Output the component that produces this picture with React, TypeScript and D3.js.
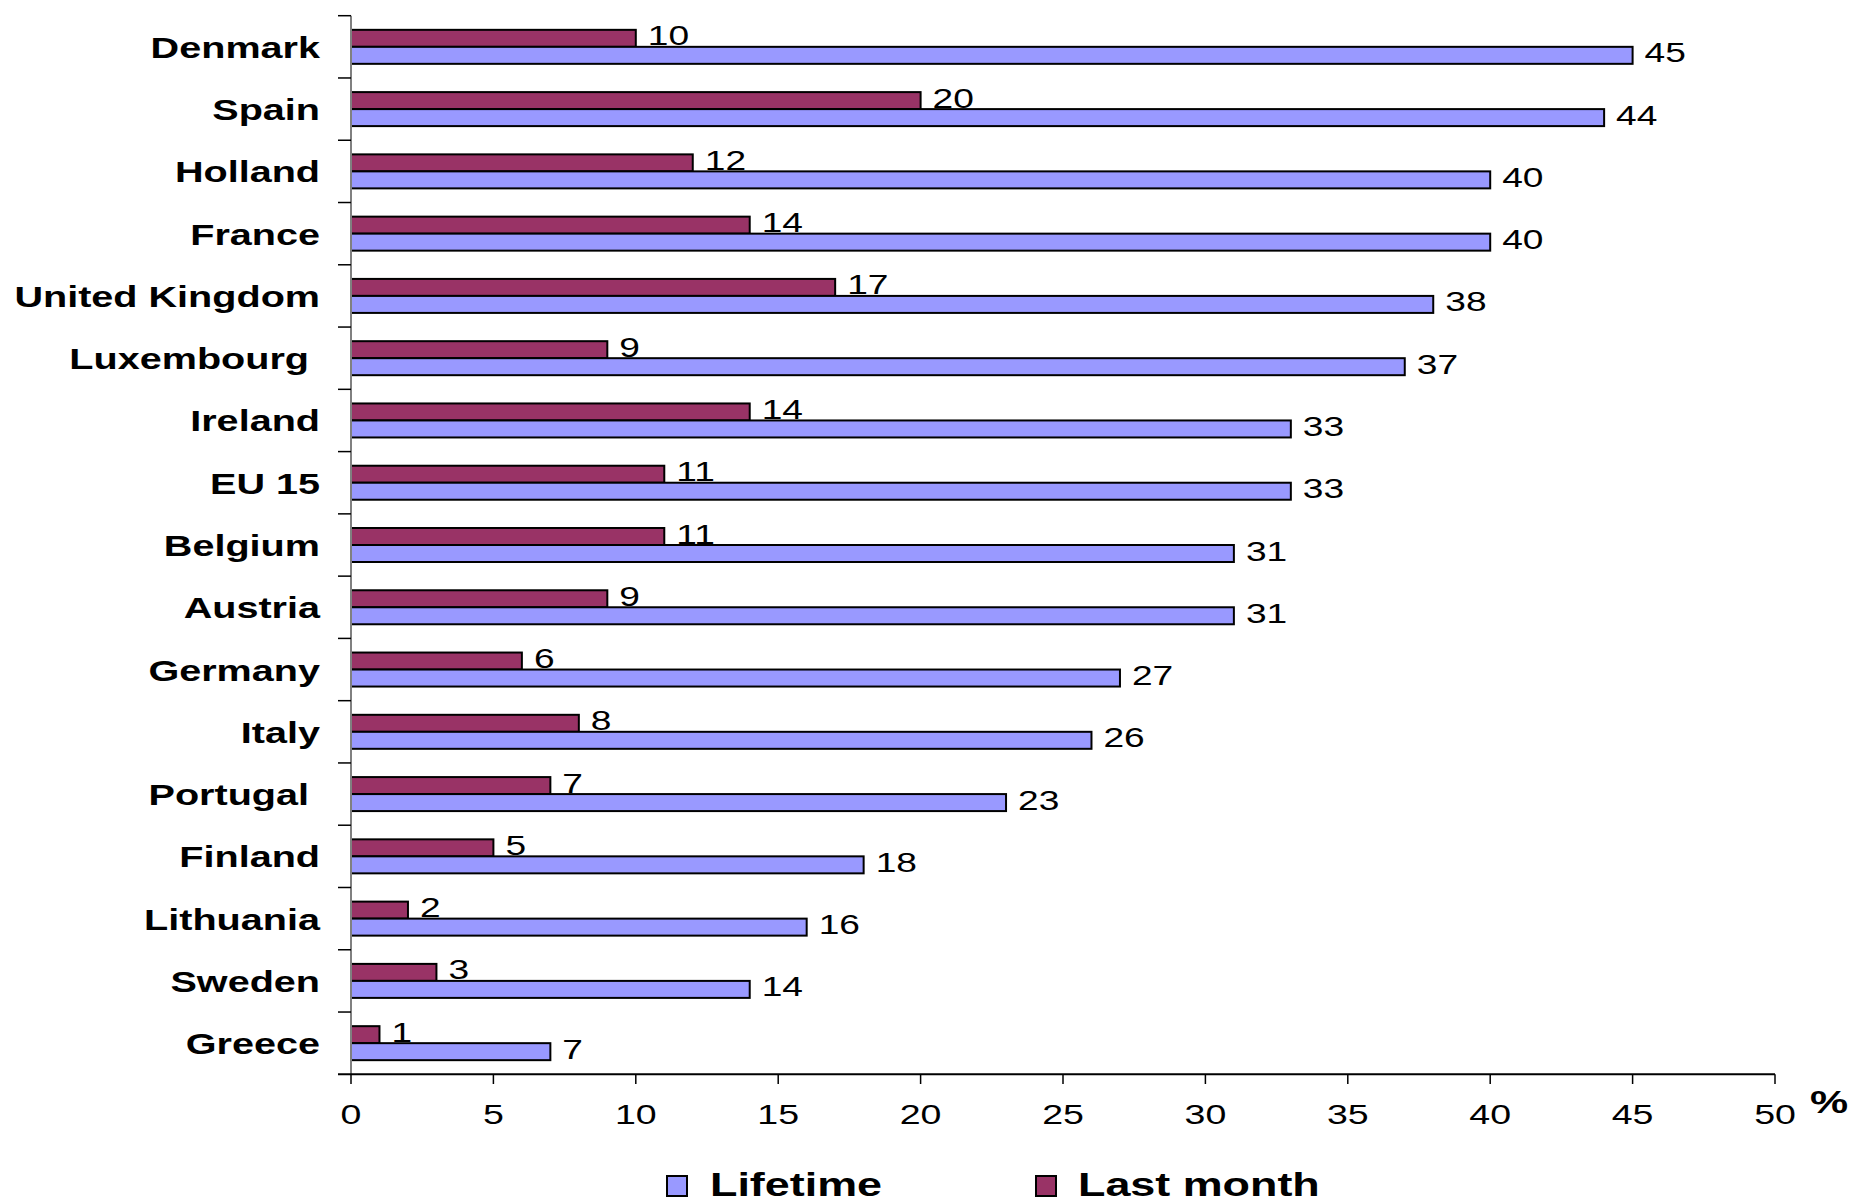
import React from "react";
import * as d3 from "d3";

// Prevalence of use, % of population
const countries = [
  "Denmark", "Spain", "Holland", "France", "United Kingdom", "Luxembourg ",
  "Ireland", "EU 15", "Belgium", "Austria", "Germany", "Italy", "Portugal ",
  "Finland", "Lithuania", "Sweden", "Greece",
];
const lifetime = [45, 44, 40, 40, 38, 37, 33, 33, 31, 31, 27, 26, 23, 18, 16, 14, 7];
const lastMonth = [10, 20, 12, 14, 17, 9, 14, 11, 11, 9, 6, 8, 7, 5, 2, 3, 1];
const xTicks = [0, 5, 10, 15, 20, 25, 30, 35, 40, 45, 50];
const seriesNames = ["Lifetime", "Last month"];

const W = 1854;
const H = 1203;
const FONT = "'Liberation Sans', Arial, Helvetica, sans-serif";
const LAVENDER = "#9999FF";
const MAROON = "#993366";

export default function App() {
  const x = d3.scaleLinear().domain([0, 50]).range([351, 1775]);
  const y = d3.scaleBand<string>().domain(countries).range([15.7, 1074.3]).padding(0);
  const bw = y.bandwidth();
  const barH = 17;

  // lettering is drawn horizontally stretched
  const txt = (
    key: string,
    tx: number,
    ty: number,
    s: string,
    size: number,
    bold: boolean,
    anchor: "start" | "middle" | "end",
    sx = 1.34
  ) => (
    <text
      key={key}
      transform={`translate(${tx},${ty}) scale(${sx},1)`}
      fontFamily={FONT}
      fontSize={size}
      fontWeight={bold ? "bold" : "normal"}
      textAnchor={anchor}
      fill="#000"
      style={{ whiteSpace: "pre" }}
    >
      {s}
    </text>
  );

  return (
    <svg
      width={W}
      height={H}
      style={{ position: "absolute", left: 0, top: 0, background: "#fff" }}
    >
      {/* bars */}
      {countries.map((c, i) => {
        const yc = (y(c) as number) + bw / 2;
        const yM = yc - barH;
        const yL = yc;
        return (
          <g key={c}>
            <rect x={x(0)} y={yM} width={x(lastMonth[i]) - x(0)} height={barH}
              fill={MAROON} stroke="#000" strokeWidth={2} />
            <rect x={x(0)} y={yL} width={x(lifetime[i]) - x(0)} height={barH}
              fill={LAVENDER} stroke="#000" strokeWidth={2} />
            {txt("m" + i, x(lastMonth[i]) + 12, yM + barH / 2 + 7, String(lastMonth[i]), 27.5, false, "start", 1.35)}
            {txt("l" + i, x(lifetime[i]) + 12, yL + barH / 2 + 7, String(lifetime[i]), 27.5, false, "start", 1.35)}
            {txt("c" + i, 320, yc + 11, c, 30, true, "end", 1.32)}
          </g>
        );
      })}

      {/* y axis */}
      <line x1={x(0)} x2={x(0)} y1={15.7} y2={1074.3} stroke="#808080" strokeWidth={2} />
      {countries.map((c, i) => (
        <line key={"yt" + i} x1={338} x2={x(0)} y1={y(c) as number} y2={y(c) as number}
          stroke="#000" strokeWidth={1.5} />
      ))}

      {/* x axis */}
      <line x1={338} x2={x(50)} y1={1074.3} y2={1074.3} stroke="#000" strokeWidth={2} />
      {xTicks.map((t) => (
        <g key={"xt" + t}>
          <line x1={x(t)} x2={x(t)} y1={1074.3} y2={1084} stroke="#000" strokeWidth={1.5} />
          {txt("xl" + t, x(t), 1124, String(t), 28, false, "middle")}
        </g>
      ))}
      {txt("pct", 1810, 1113, "%", 32, true, "start")}

      {/* legend */}
      <rect x={667} y={1176} width={20} height={20} fill={LAVENDER} stroke="#000" strokeWidth={2} />
      {txt("lg0", 710, 1196, seriesNames[0], 33, true, "start", 1.36)}
      <rect x={1036} y={1176} width={20} height={20} fill={MAROON} stroke="#000" strokeWidth={2} />
      {txt("lg1", 1078, 1196, seriesNames[1], 33, true, "start", 1.36)}
    </svg>
  );
}
